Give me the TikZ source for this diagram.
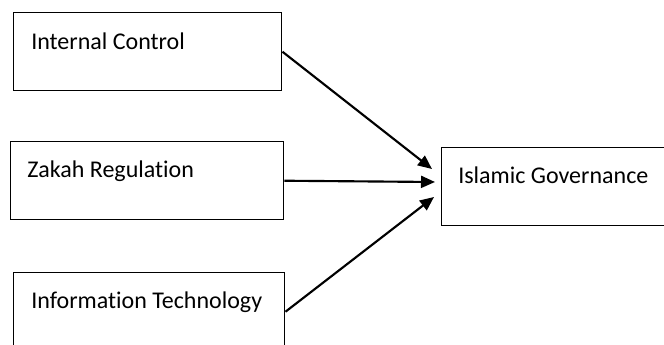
\documentclass[tikz,border=0pt]{standalone}
\usepackage{fontspec}
\setmainfont{Carlito}[Ligatures={NoCommon,NoContextual}]
\usetikzlibrary{arrows.meta,positioning}

\begin{document}
\begin{tikzpicture}[
      x=0.75pt, y=-0.75pt,
      box/.style={draw, line width=1.1pt, anchor=north west, inner sep=0pt, minimum height=58.5pt},
      lbl/.style={anchor=base west, inner sep=0pt, font=\fontsize{18}{22}\selectfont},
      link/.style={-{Triangle[length=10.5pt,width=9pt]}, line width=1.6pt}
    ]
    \useasboundingbox (0,0) rectangle (664,345);
    \clip (0,0) rectangle (664,345);
    % Independent variables on the left
    \node[box, minimum width=201pt] (ic) at (13,12) {};
    \node[box, minimum width=204.75pt] (zr) at (10,141) {};
    \node[box, minimum width=203.25pt] (it) at (13,272) {};
    \node[lbl] (icl) at (31,50) {Internal Control};
    \node[lbl] (zrl) at (27,178) {Zakah Regulation};
    \node[lbl] (itl) at (31,309) {Information Technology};
    % Dependent variable on the right
    \node[box, minimum width=190pt] (ig) at (441,147) {};
    \node[lbl] (igl) at (458,184) {Islamic Governance};
    % Arrow ends in front of the governance box
    \coordinate (t1) at (432,169);
    \coordinate (t2) at (435,182);
    \coordinate (t3) at (434,197);
    \draw[link] (ic.east) -- (t1);
    \draw[link] (zr.east) -- (t2);
    \draw[link] (it.east) -- (t3);
  \end{tikzpicture}
\end{document}
